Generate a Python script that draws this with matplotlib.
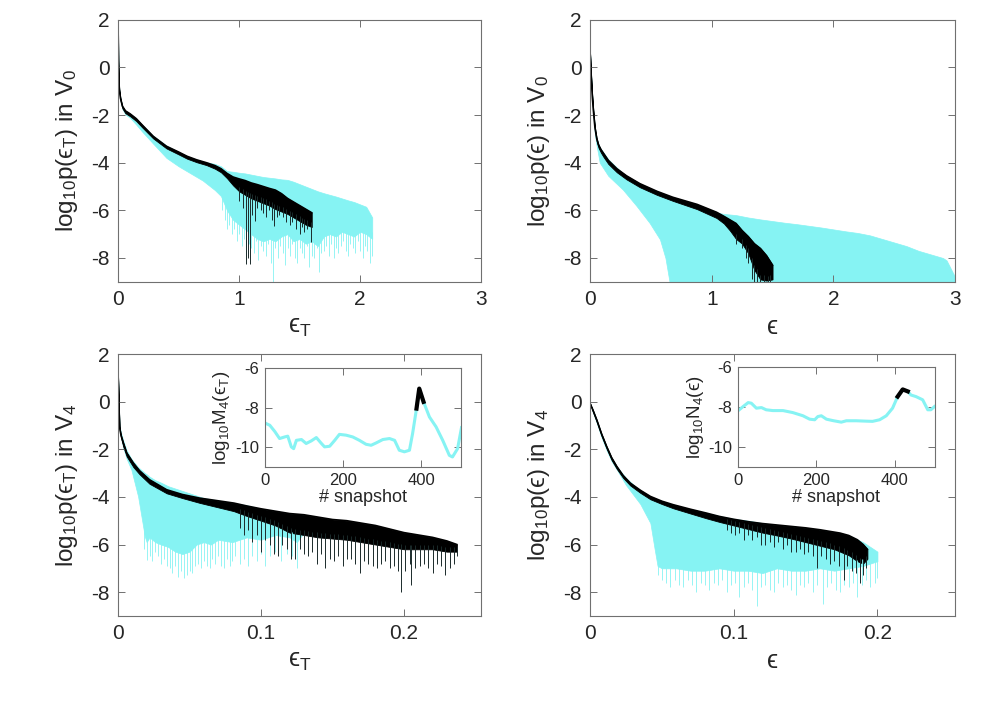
import numpy as np
import matplotlib
matplotlib.use("Agg")
from matplotlib import pyplot as plt

plt.rcParams['font.family'] = ['Liberation Sans', 'DejaVu Sans']
plt.rcParams['mathtext.fontset'] = 'custom'
plt.rcParams['mathtext.rm'] = 'Liberation Sans'
plt.rcParams['mathtext.it'] = 'Liberation Sans:italic'
plt.rcParams['mathtext.default'] = 'regular'
plt.rcParams['mathtext.fallback'] = 'stixsans'
plt.rcParams['axes.unicode_minus'] = False

CYAN = '#86f3f3'
EPS = '\u03f5'

# ---- top left: eps_T in V0 ----
tl_cx = [0, 0.002, 0.005, 0.01, 0.02, 0.036, 0.06, 0.1, 0.15, 0.2, 0.29, 0.4, 0.5, 0.6, 0.7, 0.8, 0.85, 0.9, 0.95,
         1.0, 1.05, 1.1, 1.15, 1.2, 1.25, 1.3, 1.35, 1.4, 1.45, 1.5, 1.55, 1.6, 1.65, 1.7, 1.75, 1.8, 1.85, 1.9, 1.95,
         2.0, 2.05, 2.1]
tl_chi = [1.45, 0.3, -0.4, -0.93, -1.3, -1.63, -1.82, -1.95, -2.15, -2.42, -2.87, -3.28, -3.55, -3.78, -3.95, -4.05,
          -4.15, -4.35, -4.38, -4.42, -4.45, -4.5, -4.55, -4.6, -4.63, -4.66, -4.7, -4.72, -4.8, -4.9, -5.0, -5.1,
          -5.2, -5.28, -5.35, -5.42, -5.5, -5.58, -5.65, -5.75, -5.85, -6.3]
tl_clo = [1.45, 0.25, -0.5, -1.0, -1.4, -1.75, -1.97, -2.12, -2.4, -2.7, -3.2, -3.8, -4.15, -4.45, -4.75, -5.15,
          -5.4, -6.0, -6.4, -6.6, -6.8, -7.0, -7.2, -7.3, -7.2, -7.3, -7.1, -7.0, -7.3, -7.2, -7.4, -7.3, -7.5, -7.1,
          -7.0, -7.1, -6.9, -7.0, -7.1, -6.9, -7.0, -7.2]
tl_cspikes = [(0.86, -6.0), (0.88, -6.4), (0.9, -6.8), (0.92, -6.6), (0.94, -7.0), (0.96, -6.8), (0.98, -7.3),
              (1.0, -7.0), (1.02, -7.5), (1.04, -7.2), (1.06, -7.9), (1.08, -7.4), (1.1, -7.6), (1.12, -7.8),
              (1.14, -7.3), (1.16, -8.1), (1.18, -7.5), (1.2, -7.7), (1.22, -7.9), (1.24, -7.4), (1.26, -8.2),
              (1.28, -9.0), (1.3, -7.6), (1.32, -8.0), (1.34, -7.5), (1.36, -7.8), (1.38, -8.3), (1.4, -7.6),
              (1.42, -7.9), (1.44, -7.4), (1.46, -8.0), (1.48, -8.2), (1.5, -7.6), (1.52, -7.8), (1.54, -8.0),
              (1.56, -7.5), (1.58, -8.4), (1.6, -7.9), (1.62, -8.0), (1.64, -7.6), (1.66, -8.6), (1.68, -7.8),
              (1.7, -7.7), (1.72, -7.5), (1.74, -7.9), (1.76, -7.4), (1.78, -8.0), (1.8, -7.6), (1.82, -7.8),
              (1.84, -7.5), (1.86, -7.3), (1.88, -7.7), (1.9, -7.9), (1.92, -7.4), (1.94, -7.6), (1.96, -7.8),
              (1.98, -7.3), (2.0, -7.7), (2.02, -8.0), (2.04, -7.5), (2.06, -7.7), (2.08, -8.2), (2.1, -7.9)]
tl_bx = [0, 0.002, 0.005, 0.01, 0.02, 0.036, 0.06, 0.1, 0.15, 0.2, 0.29, 0.4, 0.5, 0.57, 0.65, 0.73, 0.8, 0.85, 0.9,
         0.95, 1.0, 1.05, 1.1, 1.15, 1.2, 1.25, 1.3, 1.35, 1.4, 1.45, 1.5, 1.55, 1.6]
tl_bhi = [1.45, 0.3, -0.4, -0.93, -1.3, -1.63, -1.82, -1.95, -2.15, -2.42, -2.89, -3.31, -3.55, -3.73, -3.88, -4.0,
          -4.12, -4.25, -4.45, -4.6, -4.68, -4.75, -4.85, -4.92, -5.0, -5.08, -5.15, -5.3, -5.5, -5.65, -5.8, -5.95,
          -6.1]
tl_blo = [1.45, 0.25, -0.48, -1.0, -1.38, -1.72, -1.92, -2.05, -2.25, -2.52, -2.98, -3.4, -3.65, -3.83, -3.98, -4.1,
          -4.25, -4.4, -4.65, -4.95, -5.2, -5.35, -5.5, -5.6, -5.7, -5.8, -5.95, -6.05, -6.15, -6.3, -6.45, -6.6, -6.7]
tl_bspikes = [(1.0, -5.6), (1.03, -5.9), (1.06, -8.27), (1.075, -8.0), (1.09, -8.27), (1.11, -6.2), (1.13, -6.45),
              (1.15, -5.9), (1.18, -6.0), (1.2, -6.1), (1.22, -6.3), (1.25, -6.0), (1.27, -6.4), (1.29, -6.67),
              (1.31, -6.3), (1.33, -6.2), (1.36, -6.3), (1.39, -6.5), (1.42, -6.6), (1.44, -6.5), (1.47, -6.8),
              (1.5, -7.0), (1.52, -6.7), (1.54, -6.9), (1.56, -6.8), (1.59, -7.35)]

# ---- top right: eps in V0 ----
tr_cx = [0, 0.007, 0.014, 0.02, 0.027, 0.04, 0.055, 0.08, 0.15, 0.27, 0.38, 0.49, 0.575, 0.62, 0.66, 0.7, 0.8, 0.9,
         1.0, 1.1, 1.2, 1.3, 1.4, 1.5, 1.6, 1.7, 1.8, 1.9, 2.0, 2.1, 2.2, 2.3, 2.4, 2.5, 2.6, 2.7, 2.8, 2.9, 2.93,
         2.97, 3.0]
tr_chi = [0.67, -0.1, -0.8, -1.3, -1.77, -2.5, -2.98, -3.35, -3.85, -4.45, -4.82, -5.1, -5.28, -5.38, -5.45, -5.52,
          -5.68, -5.85, -6.05, -6.15, -6.2, -6.3, -6.38, -6.45, -6.52, -6.58, -6.65, -6.72, -6.8, -6.88, -6.95, -7.05,
          -7.2, -7.35, -7.5, -7.7, -7.85, -8.0, -8.1, -8.5, -8.8]
tr_clo = [0.67, -0.2, -0.9, -1.5, -2.0, -2.8, -3.3, -4.0, -4.55, -5.13, -5.8, -6.53, -7.22, -8.0, -9.2, -9.2, -9.2,
          -9.2, -9.2, -9.2, -9.2, -9.2, -9.2, -9.2, -9.2, -9.2, -9.2, -9.2, -9.2, -9.2, -9.2, -9.2, -9.2, -9.2, -9.2,
          -9.2, -9.2, -9.2, -9.2, -9.2, -9.2]
tr_cspikes = []
tr_bx = [0, 0.007, 0.014, 0.02, 0.027, 0.04, 0.055, 0.07, 0.09, 0.11, 0.15, 0.22, 0.3, 0.41, 0.55, 0.68, 0.88, 1.04,
         1.1, 1.15, 1.2, 1.25, 1.3, 1.35, 1.4, 1.45, 1.5]
tr_bhi = [0.67, -0.1, -0.8, -1.3, -1.77, -2.5, -2.98, -3.25, -3.45, -3.6, -3.9, -4.25, -4.55, -4.88, -5.2, -5.45,
          -5.75, -6.08, -6.25, -6.4, -6.55, -6.85, -7.1, -7.4, -7.6, -7.9, -8.3]
tr_blo = [0.67, -0.2, -0.9, -1.4, -1.9, -2.62, -3.1, -3.37, -3.58, -3.75, -4.05, -4.4, -4.7, -5.03, -5.35, -5.6,
          -5.95, -6.32, -6.55, -6.85, -7.2, -7.4, -7.8, -8.5, -8.9, -8.95, -8.9]
tr_bspikes = [(1.2, -7.4), (1.25, -7.6), (1.28, -8.0), (1.3, -8.2), (1.33, -8.9), (1.35, -9.0), (1.37, -9.0),
              (1.4, -9.0), (1.43, -9.0), (1.46, -9.0), (1.48, -9.0)]

# ---- bottom left: eps_T in V4 ----
bl_cx = [0, 0.001, 0.002, 0.0037, 0.006, 0.0093, 0.014, 0.0187, 0.02, 0.022, 0.026, 0.03, 0.035, 0.04, 0.045, 0.05,
         0.055, 0.06, 0.065, 0.07, 0.08, 0.09, 0.1, 0.11, 0.12, 0.125, 0.13]
bl_chi = [1.05, -1.0, -1.3, -1.65, -2.05, -2.4, -2.75, -3.0, -3.05, -3.15, -3.3, -3.4, -3.55, -3.65, -3.75, -3.85,
          -3.95, -4.05, -4.1, -4.15, -4.25, -4.35, -4.5, -4.6, -4.7, -4.72, -4.75]
bl_clo = [1.05, -1.15, -1.5, -1.95, -2.4, -2.86, -3.98, -5.66, -5.9, -5.7, -5.9, -6.0, -6.1, -6.3, -6.4, -6.3, -6.0,
          -5.9, -6.0, -5.8, -5.9, -5.7, -5.8, -5.6, -5.7, -5.9, -5.5]
bl_cspikes = [(0.018, -6.2), (0.02, -6.64), (0.022, -6.5), (0.024, -6.7), (0.026, -6.3), (0.028, -6.5),
              (0.03, -6.8), (0.032, -6.6), (0.034, -6.9), (0.036, -7.0), (0.038, -7.2), (0.04, -6.9),
              (0.042, -7.35), (0.044, -7.1), (0.046, -7.4), (0.048, -7.3), (0.05, -7.1), (0.052, -7.2),
              (0.054, -6.9), (0.056, -6.8), (0.058, -7.0), (0.06, -6.7), (0.062, -6.9), (0.064, -7.0),
              (0.066, -6.6), (0.068, -6.8), (0.07, -6.5), (0.072, -6.9), (0.074, -7.0), (0.076, -6.6),
              (0.078, -6.9), (0.08, -6.7), (0.082, -6.5), (0.085, -6.8), (0.088, -6.6), (0.091, -6.9),
              (0.094, -6.5), (0.097, -6.7), (0.1, -6.4), (0.103, -6.9), (0.106, -6.5), (0.11, -6.3),
              (0.114, -6.7), (0.118, -6.4), (0.122, -6.5), (0.125, -7.0)]
bl_bx = [0, 0.001, 0.002, 0.0037, 0.006, 0.0107, 0.015, 0.022, 0.034, 0.045, 0.057, 0.081, 0.09, 0.1, 0.11, 0.12,
         0.13, 0.14, 0.15, 0.16, 0.17, 0.18, 0.19, 0.2, 0.21, 0.22, 0.23, 0.237]
bl_bhi = [1.05, -1.05, -1.4, -1.74, -2.15, -2.58, -2.9, -3.28, -3.7, -3.9, -4.05, -4.26, -4.38, -4.5, -4.6, -4.7,
          -4.75, -4.85, -4.95, -5.0, -5.1, -5.2, -5.35, -5.5, -5.6, -5.7, -5.85, -6.0]
bl_blo = [1.05, -1.15, -1.5, -1.9, -2.3, -2.75, -3.05, -3.45, -3.85, -4.05, -4.25, -4.6, -4.8, -5.0, -5.2, -5.5,
          -5.6, -5.7, -5.75, -5.8, -5.9, -6.0, -6.1, -6.2, -6.2, -6.2, -6.3, -6.3]
bl_bspikes = [(0.085, -5.3), (0.088, -5.6), (0.091, -5.4), (0.094, -5.9), (0.097, -5.6), (0.1, -6.3),
              (0.103, -5.8), (0.106, -6.0), (0.109, -6.4), (0.112, -6.5), (0.115, -6.0), (0.118, -6.2),
              (0.121, -6.6), (0.124, -6.6), (0.127, -6.2), (0.13, -6.4), (0.133, -6.5), (0.136, -6.3),
              (0.139, -6.8), (0.142, -6.4), (0.145, -7.0), (0.148, -6.6), (0.151, -6.7), (0.154, -6.5),
              (0.157, -6.9), (0.16, -6.6), (0.163, -6.6), (0.166, -6.8), (0.169, -7.2), (0.172, -6.7),
              (0.175, -6.8), (0.178, -6.9), (0.181, -7.0), (0.184, -6.8), (0.187, -6.7), (0.19, -7.0),
              (0.193, -6.9), (0.196, -7.1), (0.198, -8.0), (0.201, -7.1), (0.204, -6.8), (0.205, -7.7),
              (0.208, -7.0), (0.211, -6.9), (0.214, -6.8), (0.217, -7.0), (0.22, -7.2), (0.223, -6.8),
              (0.226, -6.9), (0.229, -7.3), (0.232, -7.0), (0.235, -6.8), (0.237, -6.5)]

# ---- bottom right: eps in V4 ----
br_cx = [0, 0.002, 0.0047, 0.008, 0.0116, 0.015, 0.0186, 0.025, 0.035, 0.042, 0.045, 0.047, 0.05, 0.06, 0.07, 0.08,
         0.09, 0.1, 0.11, 0.12, 0.13, 0.14, 0.15, 0.16, 0.17, 0.18, 0.19, 0.195, 0.2]
br_chi = [-0.07, -0.35, -0.77, -1.35, -1.89, -2.35, -2.72, -3.2, -3.75, -3.98, -4.05, -4.1, -4.18, -4.36, -4.52,
          -4.66, -4.8, -4.92, -5.0, -5.1, -5.18, -5.24, -5.3, -5.38, -5.48, -5.62, -5.9, -6.1, -6.3]
br_clo = [-0.07, -0.45, -0.9, -1.5, -2.05, -2.5, -2.85, -3.5, -4.3, -5.1, -6.2, -6.9, -7.0, -7.0, -7.1, -7.1, -7.0,
          -7.1, -7.1, -7.2, -7.0, -7.1, -7.1, -7.0, -7.1, -7.0, -6.9, -6.8, -6.7]
br_cspikes = [(0.047, -7.3), (0.05, -7.5), (0.053, -7.6), (0.056, -7.8), (0.059, -7.5), (0.062, -7.7),
              (0.065, -7.8), (0.068, -7.5), (0.071, -7.7), (0.074, -8.0), (0.077, -7.6), (0.08, -7.7),
              (0.083, -7.9), (0.086, -7.6), (0.089, -7.7), (0.092, -7.5), (0.095, -8.0), (0.098, -7.7),
              (0.101, -7.6), (0.104, -8.2), (0.107, -7.8), (0.11, -7.6), (0.113, -7.9), (0.116, -8.6),
              (0.119, -7.8), (0.122, -7.7), (0.125, -7.9), (0.128, -8.0), (0.131, -7.6), (0.134, -7.8),
              (0.137, -7.7), (0.14, -7.9), (0.143, -8.1), (0.146, -7.7), (0.149, -7.8), (0.152, -7.6),
              (0.155, -8.0), (0.158, -7.7), (0.162, -8.5), (0.165, -7.8), (0.168, -7.6), (0.171, -7.9),
              (0.174, -8.0), (0.177, -7.7), (0.18, -7.8), (0.183, -7.6), (0.186, -8.2), (0.189, -7.7),
              (0.192, -7.5), (0.195, -7.8), (0.198, -7.6), (0.2, -7.4)]
br_bx = [0, 0.002, 0.0047, 0.008, 0.0116, 0.015, 0.0186, 0.023, 0.028, 0.035, 0.042, 0.05, 0.058, 0.07, 0.081, 0.09,
         0.1, 0.11, 0.12, 0.13, 0.14, 0.15, 0.16, 0.17, 0.174, 0.18, 0.186, 0.19, 0.193]
br_bhi = [-0.07, -0.35, -0.77, -1.35, -1.89, -2.35, -2.72, -3.1, -3.42, -3.72, -3.98, -4.18, -4.33, -4.52, -4.68,
          -4.82, -4.94, -5.04, -5.12, -5.18, -5.24, -5.3, -5.38, -5.48, -5.52, -5.62, -5.8, -6.0, -6.2]
br_blo = [-0.07, -0.42, -0.85, -1.43, -1.98, -2.45, -2.82, -3.2, -3.52, -3.83, -4.1, -4.3, -4.48, -4.7, -4.9, -5.05,
          -5.2, -5.35, -5.5, -5.62, -5.75, -5.9, -6.05, -6.2, -6.3, -6.45, -6.7, -6.8, -6.6]
br_bspikes = [(0.095, -5.4), (0.098, -5.5), (0.101, -5.6), (0.104, -5.5), (0.107, -5.8), (0.11, -5.6),
              (0.113, -5.8), (0.116, -5.7), (0.119, -6.0), (0.122, -6.0), (0.125, -5.9), (0.128, -6.1),
              (0.131, -5.9), (0.134, -6.2), (0.137, -6.0), (0.14, -6.3), (0.143, -6.3), (0.146, -6.2),
              (0.149, -6.4), (0.152, -6.3), (0.155, -6.5), (0.158, -7.0), (0.161, -6.5), (0.164, -6.6),
              (0.167, -6.8), (0.17, -6.7), (0.173, -6.9), (0.1765, -7.48), (0.179, -6.9), (0.182, -7.1),
              (0.185, -7.2), (0.188, -7.6), (0.19, -7.3), (0.192, -7.0)]

# ---- insets: moments vs snapshot ----
m4_snap = [0, 13, 26, 38, 51, 59, 68, 74, 81, 94, 106, 119, 132, 145, 153, 166, 179, 191, 208, 225, 242, 259, 272,
           285, 302, 319, 332, 344, 357, 370, 378, 388, 395, 406, 421, 438, 455, 472, 480, 493, 503]
m4_val = [-8.76, -8.88, -9.2, -9.55, -9.47, -9.43, -9.97, -10.06, -9.64, -9.6, -9.8, -9.67, -9.5, -9.8, -9.97, -9.94,
          -9.64, -9.34, -9.38, -9.47, -9.64, -9.84, -9.89, -9.77, -9.6, -9.55, -9.64, -10.14, -10.22, -10.14, -9.3,
          -8.04, -7.03, -7.7, -8.46, -8.96, -9.64, -10.4, -10.48, -10.06, -9.0]
m4_peak_snap = [388, 395, 406]
m4_peak_val = [-8.04, -7.03, -7.7]
n4_snap = [0, 13, 26, 34, 47, 60, 72, 89, 115, 140, 166, 183, 196, 204, 213, 226, 242, 264, 277, 302, 328, 344, 362,
           379, 395, 408, 421, 434, 442, 455, 472, 485, 493, 502]
n4_val = [-8.17, -7.96, -7.76, -7.79, -8.04, -8.01, -8.12, -8.16, -8.16, -8.26, -8.42, -8.59, -8.62, -8.46, -8.42,
          -8.59, -8.66, -8.74, -8.67, -8.67, -8.69, -8.7, -8.62, -8.42, -8.04, -7.46, -7.1, -7.2, -7.38, -7.46, -7.62,
          -8.12, -8.12, -7.96]
n4_peak_snap = [408, 421, 434]
n4_peak_val = [-7.46, -7.1, -7.2]

fig = plt.figure(figsize=(9.84, 7.08), dpi=100)


def style(ax, fs):
	for s in ax.spines.values():
		s.set_color('#707070')
		s.set_linewidth(0.8)
	ax.tick_params(direction='in', top=True, right=True, length=5, width=0.7, color='#707070',
		labelsize=fs, labelcolor='#262626', pad=6)


def panel(rect, cx, chi, clo, cspikes, bx, bhi, blo, bspikes, xlim, xticks, xlab, ylab):
	ax = fig.add_axes(rect)
	ax.fill_between(cx, clo, chi, color=CYAN, lw=0.5, edgecolor=CYAN)
	if cspikes:
		sx, sy = zip(*cspikes)
		ax.vlines(sx, sy, np.interp(sx, cx, clo) + 0.3, color=CYAN, lw=0.6)
	ax.fill_between(bx, blo, bhi, color='black', lw=0.6, edgecolor='black')
	ax.plot(bx, bhi, color='black', lw=1.2)
	sx, sy = zip(*bspikes)
	ax.vlines(sx, sy, np.interp(sx, bx, blo) + 0.2, color='#1a2a2a', lw=0.7)
	ax.set_xlim(xlim)
	ax.set_ylim(-9, 2)
	ax.set_xticks(xticks)
	ax.set_xticklabels([('%g' % t) for t in xticks])
	ax.set_yticks([-8, -6, -4, -2, 0, 2])
	ax.set_xlabel(xlab, fontsize=18, color='#262626', labelpad=4)
	ax.set_ylabel(ylab, fontsize=17.5, color='#262626', labelpad=8)
	style(ax, 15)
	return ax


panel([0.120, 0.602, 0.369, 0.370], tl_cx, tl_chi, tl_clo, tl_cspikes, tl_bx, tl_bhi, tl_blo, tl_bspikes,
	(0, 3), [0, 1, 2, 3], '$' + EPS + '_T$', '$log_{10}p(' + EPS + '_T)$ in V$_0$')
panel([0.5996, 0.602, 0.371, 0.370], tr_cx, tr_chi, tr_clo, tr_cspikes, tr_bx, tr_bhi, tr_blo, tr_bspikes,
	(0, 3), [0, 1, 2, 3], '$' + EPS + '$', '$log_{10}p(' + EPS + ')$ in V$_0$')
panel([0.120, 0.130, 0.369, 0.370], bl_cx, bl_chi, bl_clo, bl_cspikes, bl_bx, bl_bhi, bl_blo, bl_bspikes,
	(0, 0.254), [0, 0.1, 0.2], '$' + EPS + '_T$', '$log_{10}p(' + EPS + '_T)$ in V$_4$')
panel([0.5996, 0.130, 0.371, 0.370], br_cx, br_chi, br_clo, br_cspikes, br_bx, br_bhi, br_blo, br_bspikes,
	(0, 0.254), [0, 0.1, 0.2], '$' + EPS + '$', '$log_{10}p(' + EPS + ')$ in V$_4$')

# insets
for rect, sx, sv, px, pv, lab in [([0.269, 0.340, 0.200, 0.140], m4_snap, m4_val, m4_peak_snap, m4_peak_val,
		'$log_{10}M_4(' + EPS + '_T)$'),
		([0.750, 0.340, 0.200, 0.141], n4_snap, n4_val, n4_peak_snap, n4_peak_val, '$log_{10}N_4(' + EPS + ')$')]:
	ins = fig.add_axes(rect)
	ins.plot(sx, sv, color=CYAN, lw=2.2)
	ins.plot(px, pv, color='black', lw=3)
	ins.set_xlim(0, 503)
	ins.set_ylim(-11, -6)
	ins.set_xticks([0, 200, 400])
	ins.set_yticks([-10, -8, -6])
	ins.set_xlabel('# snapshot', fontsize=13, color='#262626', labelpad=1)
	ins.set_ylabel(lab, fontsize=13.5, color='#262626', labelpad=2)
	style(ins, 12)
	ins.tick_params(pad=4)

fig.savefig('out.png', dpi=100)
